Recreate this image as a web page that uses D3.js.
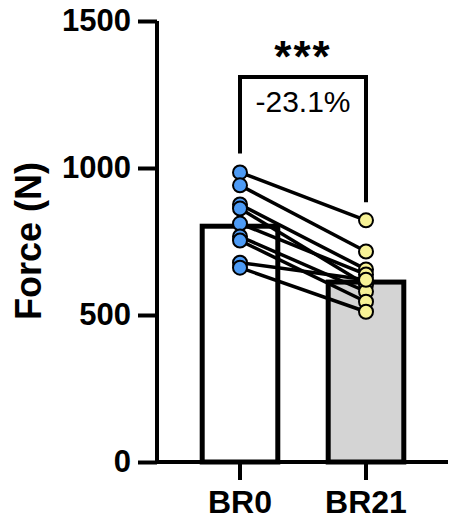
<!DOCTYPE html>
<html>
<head>
<meta charset="utf-8">
<script src="https://cdn.jsdelivr.net/npm/d3@7"></script>
<style>
  body { margin: 0; background: #fff; }
  svg { display: block; font-family: "Liberation Sans", Arial, sans-serif; }
</style>
</head>
<body>
<div id="chart"></div>
<script>
const groups = ["BR0", "BR21"]
const means = [802, 612]
const before = [985, 941, 876, 862, 811, 767, 753, 678, 661]
const after = [822, 716, 655, 603, 638, 580, 545, 620, 511]
const yTicks = [0, 500, 1000, 1500]
const stars = "***"
const change = "-23.1%"

const width = 450
const height = 522

const svg = d3.select("#chart").append("svg")
    .attr("width", width)
    .attr("height", height)

const y = d3.scaleLinear().domain([0, 1500]).range([462, 21])
const x = d3.scaleBand().domain(groups).range([177, 429])
    .paddingInner(0.4).paddingOuter(0.2)
const cx = g => x(g) + x.bandwidth() / 2

// bars
svg.selectAll("rect.bar")
    .data(groups)
    .enter()
    .append("rect")
    .attr("class", "bar")
    .attr("x", d => x(d))
    .attr("y", (d, i) => y(means[i]))
    .attr("width", x.bandwidth())
    .attr("height", (d, i) => y(0) - y(means[i]))
    .attr("fill", (d, i) => i ? "#d4d4d4" : "#fff")
    .attr("stroke", "#000")
    .attr("stroke-width", 5)

// paired lines
const pairs = before.map((b, i) => ({ b, a: after[i] }))
svg.selectAll("line.pair")
    .data(pairs)
    .enter()
    .append("line")
    .attr("x1", cx("BR0"))
    .attr("x2", cx("BR21"))
    .attr("y1", d => y(d.b))
    .attr("y2", d => y(d.a))
    .attr("stroke", "#000")
    .attr("stroke-width", 3.5)

svg.selectAll("circle.b")
    .data(before)
    .enter()
    .append("circle")
    .attr("cx", cx("BR0"))
    .attr("cy", d => y(d))
    .attr("r", 7)
    .attr("fill", "#4d9bf5")
    .attr("stroke", "#000")
    .attr("stroke-width", 2)

svg.selectAll("circle.a")
    .data(after)
    .enter()
    .append("circle")
    .attr("cx", cx("BR21"))
    .attr("cy", d => y(d))
    .attr("r", 7)
    .attr("fill", "#f7f296")
    .attr("stroke", "#000")
    .attr("stroke-width", 2)

// axes
const yAxis = svg.append("g")
    .attr("transform", "translate(157,0)")
    .call(d3.axisLeft(y).tickValues(yTicks).tickFormat(d3.format("d"))
        .tickSize(19).tickPadding(7).tickSizeOuter(0))
yAxis.select(".domain").attr("stroke-width", 4).attr("d", `M0,${y(1500)}V${y(0)}`)
yAxis.selectAll(".tick line").attr("stroke-width", 4)
yAxis.selectAll(".tick text")
    .attr("font-size", 31).attr("font-weight", "bold").attr("fill", "#000")
    .attr("font-family", "Liberation Sans, Arial, sans-serif")

const xAxis = svg.append("g")
    .attr("transform", `translate(0,${y(0)})`)
    .call(d3.axisBottom(x).tickSize(18).tickPadding(10).tickSizeOuter(0))
xAxis.select(".domain").attr("stroke-width", 4).attr("d", "M155,0H448")
xAxis.selectAll(".tick line").attr("stroke-width", 4)
xAxis.selectAll(".tick text")
    .attr("font-size", 32).attr("font-weight", "bold").attr("fill", "#000")
    .attr("font-family", "Liberation Sans, Arial, sans-serif")

svg.append("text")
    .attr("transform", `translate(41,${241}) rotate(-90)`)
    .attr("text-anchor", "middle")
    .attr("font-size", 36)
    .attr("font-weight", "bold")
    .text("Force (N)")

// significance bracket
const bTop = 77
svg.append("path")
    .attr("d", `M${cx("BR0")},${y(before[0]) - 19}V${bTop}H${cx("BR21")}V${y(after[0]) - 18}`)
    .attr("fill", "none")
    .attr("stroke", "#000")
    .attr("stroke-width", 4)

svg.append("text")
    .attr("x", (cx("BR0") + cx("BR21")) / 2)
    .attr("y", 72)
    .attr("text-anchor", "middle")
    .attr("font-size", 44)
    .attr("font-weight", "bold")
    .attr("letter-spacing", 2)
    .text(stars)

svg.append("text")
    .attr("x", (cx("BR0") + cx("BR21")) / 2)
    .attr("y", 112)
    .attr("text-anchor", "middle")
    .attr("font-size", 30)
    .text(change)
</script>
</body>
</html>
